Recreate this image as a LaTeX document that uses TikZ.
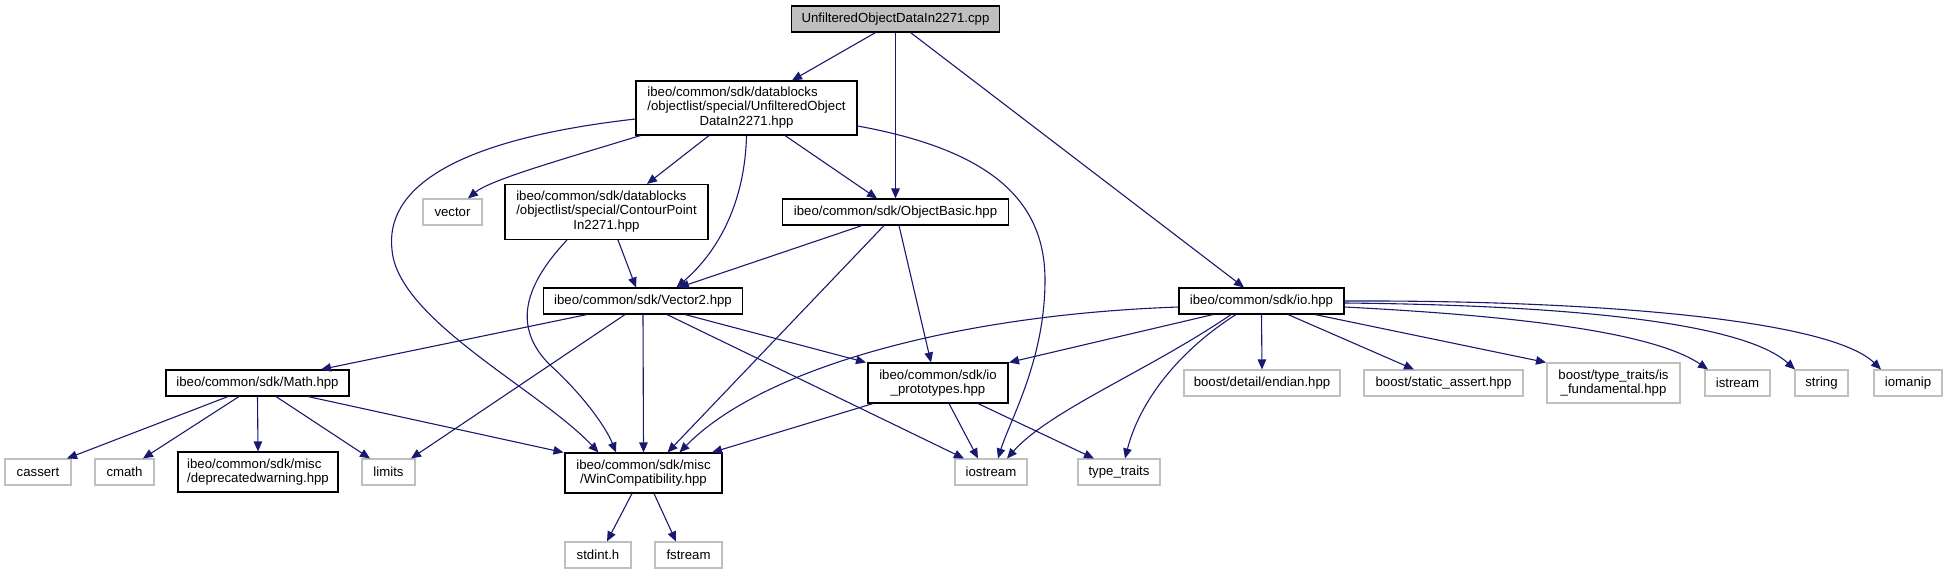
\documentclass[tikz,border=0pt]{standalone}
\usepackage{fontspec}
\setmainfont{Liberation Sans}
\usetikzlibrary{arrows.meta,calc}
\definecolor{edgecol}{HTML}{191970}
\definecolor{graybd}{HTML}{BFBFBF}
\definecolor{rootfill}{HTML}{BFBFBF}
\tikzset{
  box/.style={draw=black, line width=1.1pt, inner sep=0pt, align=center,
    font=\fontsize{13.2}{14.5}\selectfont},
  gbox/.style={box, draw=graybd},
  e/.style={draw=edgecol, line width=1.1pt, -{Triangle[length=10pt,width=8.5pt]}},
  wh/.style 2 args={minimum width=#1pt, minimum height=#2pt},
}
\begin{document}
\begin{tikzpicture}[x=1pt,y=-1pt]
\useasboundingbox (0,0) rectangle (1946,573);
% rank 0
\node[box, fill=rootfill, wh={208}{26}] (cpp) at (895.5,19) {UnfilteredObjectDataIn2271.cpp};
% rank 1
\node[box, wh={221}{54}] (uod) at (746.5,108) {\begin{tabular}{@{}l@{}}ibeo/common/sdk/datablocks\\/objectlist/special/UnfilteredObject\\\multicolumn{1}{@{}c@{}}{DataIn2271.hpp}\end{tabular}};
% rank 2
\node[gbox, wh={59}{26}] (vec) at (452.5,212) {vector};
\node[box, wh={203}{55}] (cont) at (606.5,212) {\begin{tabular}{@{}l@{}}ibeo/common/sdk/datablocks\\/objectlist/special/ContourPoint\\\multicolumn{1}{@{}c@{}}{In2271.hpp}\end{tabular}};
\node[box, wh={226}{26}] (ob) at (895.5,212) {ibeo/common/sdk/ObjectBasic.hpp};
% rank 3
\node[box, wh={199}{26}] (v2) at (643,301) {ibeo/common/sdk/Vector2.hpp};
\node[box, wh={165}{26}] (io) at (1261.5,301) {ibeo/common/sdk/io.hpp};
% rank 4
\node[box, wh={183}{26}] (math) at (257.5,383) {ibeo/common/sdk/Math.hpp};
\node[box, wh={140}{40}] (iop) at (938,383) {ibeo/common/sdk/io\\\_prototypes.hpp};
\node[gbox, wh={156}{26}] (bend) at (1262,383) {boost/detail/endian.hpp};
\node[gbox, wh={159}{26}] (bsa) at (1443.5,383) {boost/static\_assert.hpp};
\node[gbox, wh={133}{40}] (bfund) at (1613.5,383) {boost/type\_traits/is\\\_fundamental.hpp};
\node[gbox, wh={65}{26}] (istr) at (1737.5,383) {istream};
\node[gbox, wh={53}{26}] (str) at (1821.5,383) {string};
\node[gbox, wh={68}{26}] (ioman) at (1908,383) {iomanip};
% rank 5
\node[gbox, wh={66}{26}] (cass) at (38,472) {cassert};
\node[gbox, wh={59}{26}] (cmath) at (124.5,472) {cmath};
\node[box, wh={160}{40}, align=left] (depr) at (258,472) {ibeo/common/sdk/misc\\/deprecatedwarning.hpp};
\node[gbox, wh={53}{26}] (lim) at (388.5,472) {limits};
\node[box, wh={157}{40}] (win) at (643.5,473) {ibeo/common/sdk/misc\\/WinCompatibility.hpp};
\node[gbox, wh={72}{26}] (iost) at (991,472) {iostream};
\node[gbox, wh={82}{26}] (tt) at (1119,472) {type\_traits};
% rank 6
\node[gbox, wh={66}{26}] (stdint) at (598,555) {stdint.h};
\node[gbox, wh={67}{26}] (fstr) at (688.5,555) {fstream};

% edges from cpp
\draw[e] ($(cpp.south)+(-20,0)$) -- ($(uod.north)+(45.5,0)$);
\draw[e] (cpp.south) -- (ob.north);
\draw[e] ($(cpp.south)+(15,0)$) -- ($(io.north)+(-17.5,0)$);
% edges from uod
\draw[e] ($(uod.south)+(-106,0)$) .. controls (560,160) and (490,180) .. ($(vec.north)+(15.5,0)$);
\draw[e] ($(uod.west)+(0,11)$) .. controls (450,140) and (385,190) .. (392,250) .. controls (398,320) and (540,390) .. ($(win.north)+(-45,0)$);
\draw[e] ($(uod.south)+(-37.5,0)$) -- ($(cont.north)+(40.5,0)$);
\draw[e] (uod.south) .. controls (745,200) and (720,250) .. ($(v2.north)+(33.5,0)$);
\draw[e] ($(uod.south)+(38.5,0)$) -- ($(ob.north)+(-18.5,0)$);
\draw[e] ($(uod.east)+(0,18)$) .. controls (990,150) and (1045,200) .. (1045,280) .. controls (1045,360) and (1010,420) .. ($(iost.north)+(7,0)$);
% edges from cont
\draw[e] ($(cont.south)+(11.5,0)$) -- ($(v2.north)+(-7,0)$);
\draw[e] ($(cont.south)+(-39.5,0)$) .. controls (520,290) and (515,330) .. (550,365) .. controls (580,392) and (605,425) .. ($(win.north)+(-27.5,0)$);
% edges from ob
\draw[e] ($(ob.south)+(-33.5,0)$) -- ($(v2.north)+(36,0)$);
\draw[e] ($(ob.south)+(-11.5,0)$) -- ($(win.north)+(24,0)$);
\draw[e] ($(ob.south)+(3.5,0)$) -- ($(iop.north)+(-7,0)$);
% edges from v2
\draw[e] ($(v2.south)+(-56,0)$) -- ($(math.north)+(63.5,0)$);
\draw[e] ($(v2.south)+(-18,0)$) -- ($(lim.north)+(22.5,0)$);
\draw[e] (v2.south) -- (win.north);
\draw[e] ($(v2.south)+(42,0)$) -- ($(iop.north)+(-72,0)$);
\draw[e] ($(v2.south)+(24,0)$) -- ($(iost.north)+(-27,0)$);
% edges from io
\draw[e] (io.south) -- (bend.north);
\draw[e] ($(io.south)+(26.5,0)$) -- ($(bsa.north)+(-29.5,0)$);
\draw[e] ($(io.south)+(53.5,0)$) -- ($(bfund.north)+(-67.5,0)$);
\draw[e] ($(io.east)+(0,6)$) .. controls (1500,315) and (1650,330) .. ($(istr.north)+(-29.5,0)$);
\draw[e] ($(io.east)+(0,2)$) .. controls (1550,305) and (1740,320) .. ($(str.north)+(-26.5,0)$);
\draw[e] (io.east) .. controls (1600,300) and (1830,320) .. ($(ioman.north)+(-27,0)$);
\draw[e] ($(io.west)+(0,6)$) .. controls (950,315) and (760,370) .. ($(win.north)+(36,0)$);
\draw[e] ($(io.south)+(-48.5,0)$) -- ($(iop.north)+(71,0)$);
\draw[e] ($(io.south)+(-30.5,0)$) .. controls (1150,370) and (1050,410) .. ($(iost.north)+(16,0)$);
\draw[e] ($(io.south)+(-25.5,0)$) .. controls (1180,350) and (1140,400) .. ($(tt.north)+(6,0)$);
% edges from math
\draw[e] ($(math.south)+(-29.5,0)$) -- ($(cass.north)+(29,0)$);
\draw[e] ($(math.south)+(-18.5,0)$) -- ($(cmath.north)+(18.5,0)$);
\draw[e] (math.south) -- (depr.north);
\draw[e] ($(math.south)+(18.5,0)$) -- ($(lim.north)+(-18.5,0)$);
\draw[e] ($(math.south)+(50.5,0)$) -- ($(win.north)+(-80,0)$);
% edges from iop
\draw[e] ($(iop.south)+(-65,0)$) -- ($(win.north)+(68.5,0)$);
\draw[e] ($(iop.south)+(11,0)$) -- ($(iost.north)+(-13,0)$);
\draw[e] ($(iop.south)+(40,0)$) -- ($(tt.north)+(-25,0)$);
% edges from win
\draw[e] ($(win.south)+(-11.5,0)$) -- ($(stdint.north)+(9,0)$);
\draw[e] ($(win.south)+(10.5,0)$) -- ($(fstr.north)+(-12.5,0)$);
\end{tikzpicture}
\end{document}
